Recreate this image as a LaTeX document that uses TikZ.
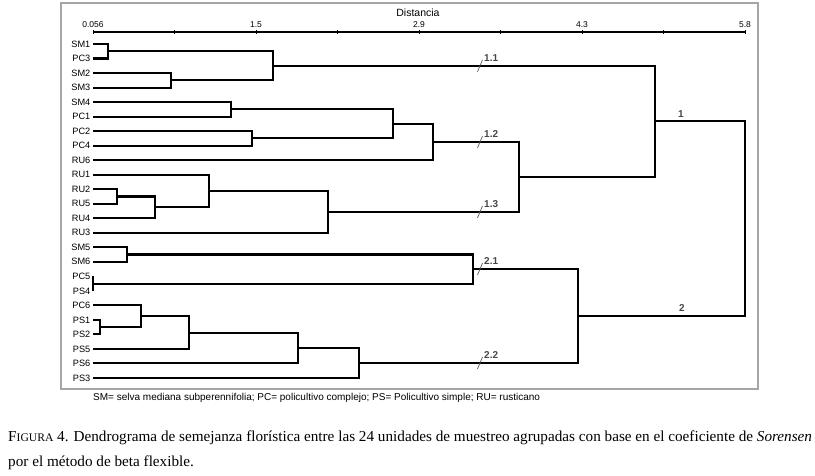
\documentclass[tikz,border=0pt]{standalone}
\usepackage{fontspec}
\setmainfont{Liberation Serif}
\setsansfont{Liberation Sans}
\usetikzlibrary{calc}

% join two branches at distance x (in px)
\newcommand{\joinpair}[4]{%
  \path let \p1=($(#3)!.5!(#4)$) in coordinate (#1) at (#2pt,\y1);
  \draw[tree] (#3) -| (#1) |- (#4);
}

\begin{document}
\begin{tikzpicture}[
    x=1pt, y=-1pt,
    tree/.style={line width=2.1pt},
    leaf/.style={anchor=east, inner sep=1.5pt, font=\sffamily\fontsize{9.2}{9.2}\selectfont},
    tick/.style={inner sep=0pt, font=\sffamily\fontsize{8.5}{8.5}\selectfont},
    cut/.style={gray!70!black, line width=0.7pt},
    clabel/.style={inner sep=0pt, text=gray!55!black, font=\sffamily\bfseries\fontsize{10}{10}\selectfont}
]

\useasboundingbox (0,0) rectangle (815,476);

% row layout
\def\rowA{44}
\def\rowH{14.52}

% --- Frame ---
\draw[gray!70, line width=1.4pt] (61,3) rectangle (758,389);

% --- Distance axis ---
\node[font=\sffamily\fontsize{10.5}{10.5}\selectfont] (axtitle) at (418,13) {Distancia};
\coordinate (ax0) at (93,32);
\coordinate (ax1) at (745,32);
\draw[line width=1.2pt] (ax0) -- (ax1);
\foreach \k in {0,...,8}
  \draw[line width=0.9pt] ($(ax0)!\k/8!(ax1)$) +(0,-2) -- +(0,2.5);
\foreach \v/\k in {0.056/0, 1.5/2, 2.9/4, 4.3/6, 5.8/8}
  \node[tick, anchor=south] (tick\k) at ($(ax0)!\k/8!(ax1)+(0,-4)$) {\v};

% --- Leaves ---
\foreach \n [count=\i from 0] in {SM1,PC3,SM2,SM3,SM4,PC1,PC2,PC4,RU6,RU1,RU2,RU5,RU4,RU3,SM5,SM6,PC5,PS4,PC6,PS1,PS2,PS5,PS6,PS3} {
  \node[leaf] (lbl\n) at (92,{\rowA+\rowH*\i}) {\n};
  \coordinate (\n) at (93,{\rowA+\rowH*\i});
}

% --- Group 1 ---
\joinpair{m1}{108}{SM1}{PC3}
\joinpair{m2}{171}{SM2}{SM3}
\joinpair{c11}{273}{m1}{m2}
\joinpair{m3}{231}{SM4}{PC1}
\joinpair{m4}{252}{PC2}{PC4}
\joinpair{m5}{393}{m3}{m4}
\joinpair{c12}{433}{m5}{RU6}
\joinpair{m6}{117}{RU2}{RU5}
\joinpair{m7}{155}{m6}{RU4}
\joinpair{m8}{209}{RU1}{m7}
\joinpair{c13}{328}{m8}{RU3}
\joinpair{m9}{519}{c12}{c13}
\joinpair{c1}{655}{c11}{m9}

% --- Group 2 ---
\joinpair{m10}{127}{SM5}{SM6}
\joinpair{m11}{93}{PC5}{PS4}
\joinpair{c21}{473}{m10}{m11}
\joinpair{m12}{100}{PS1}{PS2}
\joinpair{m13}{141}{PC6}{m12}
\joinpair{m14}{189}{m13}{PS5}
\joinpair{m15}{298}{m14}{PS6}
\joinpair{c22}{359}{m15}{PS3}
\joinpair{c2}{578}{c21}{c22}

% --- Root ---
\joinpair{root}{745}{c1}{c2}

% --- Cuts and group labels ---
\coordinate (cutx) at (480,0);
\foreach \c/\t in {c11/1.1, c12/1.2, c13/1.3, c21/2.1, c22/2.2} {
  \draw[cut] (\c -| cutx) +(-2.5,6) -- +(2.5,-6);
  \node[clabel, anchor=south west] (lbl\c) at ($(\c -| cutx)+(4,-4)$) {\t};
}
\node[clabel, anchor=south] (lblc1) at ($(c1)+(26,-4)$) {1};
\node[clabel, anchor=south] (lblc2) at ($(c2)+(104,-4)$) {2};

% --- Legend and caption ---
\node[anchor=west, inner sep=0pt, font=\sffamily\fontsize{10}{10}\selectfont] (legend) at (93,398)
  {SM= selva mediana subperennifolia; PC= policultivo complejo; PS= Policultivo simple; RU= rusticano};
\node[anchor=base west, align=left, inner sep=0pt, font=\fontsize{15.2}{25}\selectfont] (caption) at (8,466)
  {F{\fontsize{11.6}{11.6}\selectfont IGURA} 4. Dendrograma de semejanza florística entre las 24 unidades de muestreo agrupadas con base en el coeficiente de \textit{Sorensen}\\
   por el método de beta flexible.};

\end{tikzpicture}
\end{document}
